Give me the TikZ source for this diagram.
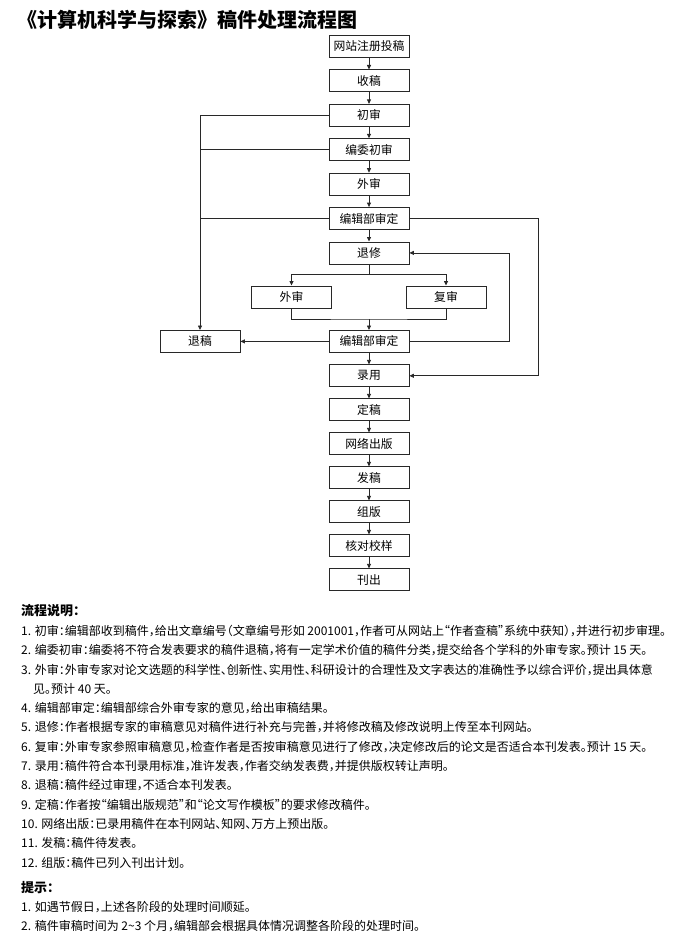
\documentclass[tikz,border=0pt]{standalone}
\usepackage{fontspec}
\setmainfont{Noto Sans CJK SC}
\newfontfamily\notefont[RawFeature={+halt}]{Noto Sans CJK SC}
\usetikzlibrary{positioning, arrows.meta}
\definecolor{ink}{RGB}{40,40,40}
\tikzstyle{stage}=[rectangle, draw=ink, line width=.8pt, minimum width=80pt, minimum height=22pt, inner sep=0pt, font=\fontsize{11.8}{12}\selectfont]
\tikzstyle{flow}=[draw=ink, line width=.8pt, -{Triangle[length=4.5pt,width=4pt]}]
\tikzstyle{wire}=[draw=ink, line width=.8pt]
\tikzstyle{note}=[anchor=west, inner sep=0pt, font=\notefont\fontsize{12}{14}\selectfont]
\tikzstyle{head}=[anchor=west, inner sep=0pt, font=\bfseries\fontsize{13}{15}\selectfont]

\begin{document}
\begin{tikzpicture}[x=1pt, y=1pt]
            %manuscript flow: main column with review loops, notes underneath
            \useasboundingbox (0,0) rectangle (691,-944);
            \node[anchor=west, inner sep=0pt, font=\bfseries\fontsize{20}{22}\selectfont](title) at (17,-20){《计算机科学与探索》稿件处理流程图};
            \node[stage](s0) at (369,-46.5){网站注册投稿};
            \foreach \n/\t in {1/收稿, 2/初审, 3/编委初审, 4/外审, 5/编辑部审定, 6/退修}{
                \pgfmathtruncatemacro\nmm{\n -1}
                \node[stage, below = 11.6pt of s\nmm](s\n){\t};
                \draw[flow] (s\nmm) to (s\n);
            }
            \node[stage, below = 21.2pt of s6, xshift=-77.5pt](ext){外审};
            \node[stage, below = 21.2pt of s6, xshift=77pt](rev){复审};
            \node[stage, below = 65.7pt of s6](s7){编辑部审定};
            \node[stage, left = 88.2pt of s7](rej){退稿};
            \coordinate[below = 10pt of s6](split);
            \coordinate[above = 11pt of s7](merge);
            \coordinate[right = 100pt of s7](loopr);
            \coordinate[right = 129pt of s5](outr);
            \draw[flow] (s6) -- (split) -| (ext);
            \draw[flow] (split) -| (rev);
            \draw[wire] (ext) |- (merge) -| (rev);
            \draw[flow] (merge) -- (s7);
            \draw[flow] (s7) -- (rej);
            \draw[flow] (s7) -- (loopr) |- (s6);
            \draw[flow] (s2) -| (rej);
            \draw[wire] (s3) -- (s3 -| rej);
            \draw[wire] (s5) -- (s5 -| rej);
            \node[stage, below = 11.6pt of s7](t0){录用};
            \draw[flow] (s7) to (t0);
            \draw[flow] (s5) -- (outr) |- (t0);
            \foreach \n/\t in {1/定稿, 2/网络出版, 3/发稿, 4/组版, 5/核对校样, 6/刊出}{
                \pgfmathtruncatemacro\nmm{\n -1}
                \node[stage, below = 11.2pt of t\nmm](t\n){\t};
                \draw[flow] (t\nmm) to (t\n);
            }
            \node[head](h0) at (21,-611){流程说明：};
            \foreach \k/\t in {0/{1. 初审：编辑部收到稿件，给出文章编号（文章编号形如 2001001，作者可从网站上“作者查稿”系统中获知），并进行初步审理。},
                               1/{2. 编委初审：编委将不符合发表要求的稿件退稿，将有一定学术价值的稿件分类，提交给各个学科的外审专家。预计 15 天。},
                               2/{3. 外审：外审专家对论文选题的科学性、创新性、实用性、科研设计的合理性及文字表达的准确性予以综合评价，提出具体意},
                               4/{4. 编辑部审定：编辑部综合外审专家的意见，给出审稿结果。},
                               5/{5. 退修：作者根据专家的审稿意见对稿件进行补充与完善，并将修改稿及修改说明上传至本刊网站。},
                               6/{6. 复审：外审专家参照审稿意见，检查作者是否按审稿意见进行了修改，决定修改后的论文是否适合本刊发表。预计 15 天。},
                               7/{7. 录用：稿件符合本刊录用标准，准许发表，作者交纳发表费，并提供版权转让声明。},
                               8/{8. 退稿：稿件经过审理，不适合本刊发表。},
                               9/{9. 定稿：作者按“编辑出版规范”和“论文写作模板”的要求修改稿件。},
                               10/{10. 网络出版：已录用稿件在本刊网站、知网、万方上预出版。},
                               11/{11. 发稿：稿件待发表。},
                               12/{12. 组版：稿件已列入刊出计划。}}{
                \node[note](l\k) at (21,-631-19.3*\k){\t};
            }
            \node[note](l3) at (33,-631-19.3*3){见。预计 40 天。};
            \node[head](h1) at (21,-887.5){提示：};
            \node[note](p1) at (21,-907){1. 如遇节假日，上述各阶段的处理时间顺延。};
            \node[note](p2) at (21,-926.5){2. 稿件审稿时间为 2\textasciitilde3 个月，编辑部会根据具体情况调整各阶段的处理时间。};
\end{tikzpicture}
\end{document}
